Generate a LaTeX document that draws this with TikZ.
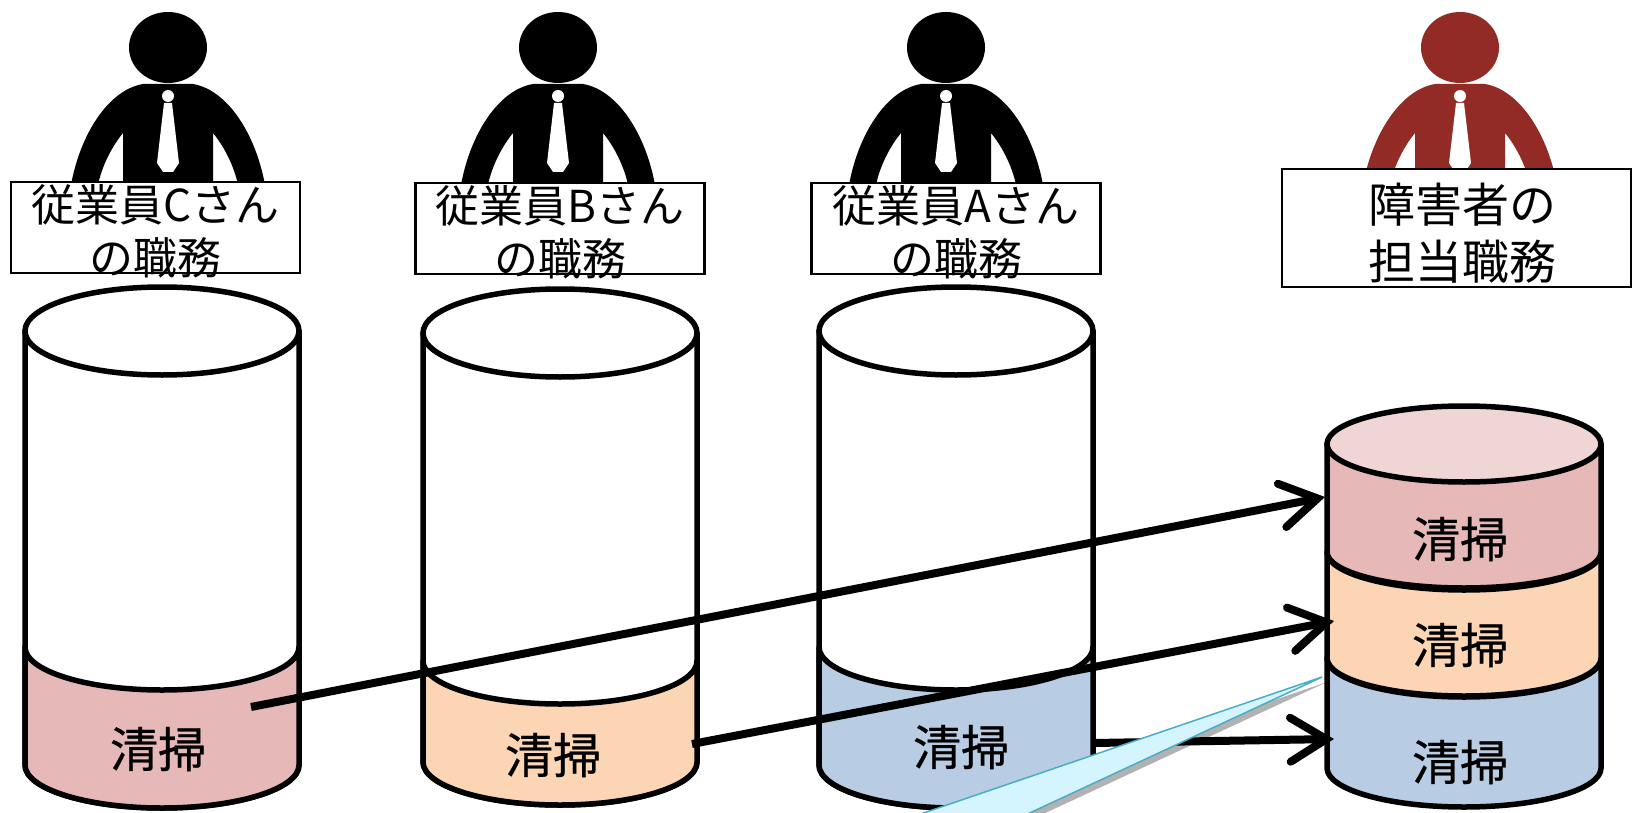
\documentclass[tikz,border=0pt]{standalone}
\usepackage{fontspec}
\setmainfont{Noto Sans CJK JP}
\newfontfamily\nettefont[FakeBold=0.6]{Noto Sans CJK JP}
\usepackage{xcolor}
\usetikzlibrary{
	arrows.meta,
	shadows
	}
\definecolor{rose-std}{HTML}{E6B8B7}
\definecolor{rose-clair}{HTML}{F0D5D5}
\definecolor{orange-std}{HTML}{FCD5B5}
\definecolor{bleu-std}{HTML}{B8CCE4}
\definecolor{rouge-std}{HTML}{922B26}
\definecolor{bord-bulle}{HTML}{4BACC6}
\definecolor{fond-bulle}{HTML}{D5F5FE}
\tikzstyle{boite-std}=[draw,fill=white,line width=2.5pt,inner sep=0pt,align=center]
\tikzstyle{cuve-std}=[draw,line width=5.5pt,line join=round]
\tikzstyle{fleche-std}=[draw,line width=8pt,-{Straight Barb[length=36pt,width=44pt,line cap=round]}]
\tikzstyle{texte-std}=[inner sep=0pt,font=\nettefont\fontsize{48}{50}\selectfont]
\newcommand{\deuxlignes}[3]{\raisebox{#3}[0pt][0pt]{\begin{tabular}{@{}c@{}}#1\\#2\end{tabular}}}
\newcommand{\personne}[2]{
\begin{scope}[shift={(#1,0)}]
\fill[#2] (0,47.5) ellipse [x radius=39,y radius=35.5];
\fill[#2] (-25,84) .. controls (-60,90) and (-88,135) .. (-97,185) -- (-70,185)
   .. controls (-66,165) and (-55,145) .. (-45,133) -- (-45,185) -- (45,185) -- (45,133)
   .. controls (55,145) and (66,165) .. (70,185) -- (97,185)
   .. controls (88,135) and (60,90) .. (25,84) -- cycle;
\fill[white] (0,96) circle (6);
\fill[white] (-4,103) -- (4,103) -- (11,163) -- (5,172) -- (-5,172) -- (-11,163) -- cycle;
\end{scope}
}
\newcommand{\bande}[5]{
\path[cuve-std,fill=#5] (#1,#2) arc[start angle=180,end angle=0,x radius=137,y radius=#4] -- (#1+274,#3)
   arc[start angle=0,end angle=180,x radius=137,y radius=#4] -- cycle;
}
\newcommand{\couvercle}[4]{
\path[cuve-std,fill=#4] (#1+137,#2) ellipse [x radius=137,y radius=#3];
}

\begin{document}
\begin{tikzpicture}[x=1pt,y=-1pt]
\useasboundingbox (0,0) rectangle (1632,813);

\personne{168}{black}
\personne{558}{black}
\personne{946}{black}
\personne{1460}{rouge-std}

\node[boite-std,minimum width=289pt,minimum height=91pt,font=\fontsize{44}{52}\selectfont] (lab1) at (155.5,227.5) {\deuxlignes{従業員Cさん}{の職務}{-16pt}};
\node[boite-std,minimum width=289pt,minimum height=91pt,font=\fontsize{44}{52}\selectfont] (lab2) at (560,228.5) {\deuxlignes{従業員Bさん}{の職務}{-16pt}};
\node[boite-std,minimum width=289pt,minimum height=91pt,font=\fontsize{44}{52}\selectfont] (lab3) at (956,228.5) {\deuxlignes{従業員Aさん}{の職務}{-16pt}};
\node[boite-std,minimum width=349pt,minimum height=118pt,font=\fontsize{47}{57}\selectfont] (lab4) at (1456.5,228) {\hspace*{12pt}\deuxlignes{障害者の}{担当職務}{-18pt}};

\bande{25}{331}{765}{43}{white}
\bande{25}{647}{765}{43}{rose-std}
\couvercle{25}{331}{44}{white}

\bande{423}{333}{762}{43}{white}
\bande{423}{661}{762}{43}{orange-std}
\couvercle{423}{333}{44}{white}

\bande{819}{331}{765}{43}{white}
\bande{819}{647}{765}{43}{bleu-std}
\couvercle{819}{331}{44}{white}

\bande{1327}{658}{768}{39}{bleu-std}
\bande{1327}{552}{658}{38}{orange-std}
\bande{1327}{444}{552}{36}{rose-std}
\couvercle{1327}{444}{38}{rose-clair}

\node[texte-std] (net1) at (158,749) {清掃};
\node[texte-std] (net2) at (553,755) {清掃};
\node[texte-std] (net3) at (961,747) {清掃};
\node[texte-std] (net4) at (1460,539) {清掃};
\node[texte-std] (net5) at (1460,645) {清掃};
\node[texte-std] (net6) at (1460,762) {清掃};

\coordinate (dep1) at (251,707);
\coordinate (dep2) at (692,744);
\coordinate (dep3) at (1094,743);
\coordinate (arr1) at (1325,497);
\coordinate (arr2) at (1334,621);
\coordinate (arr3) at (1334,739);

\draw[fleche-std] (dep3) -- (arr3);
\draw[fleche-std] (dep2) -- (arr2);
\draw[fleche-std] (dep1) -- (arr1);

\path[draw=bord-bulle,fill=fond-bulle,line width=1.5pt,drop shadow={shadow xshift=5pt,shadow yshift=-5pt,fill=black,opacity=.3}]
   (1322,677) -- (815,850) -- (950,850) -- cycle;
\end{tikzpicture}
\end{document}
